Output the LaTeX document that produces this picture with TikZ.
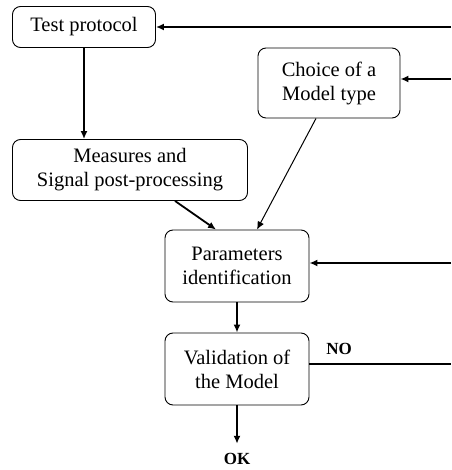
\documentclass[tikz,border=0pt]{standalone}
\usepackage{fontspec}
\setmainfont{Liberation Serif}
\usetikzlibrary{arrows.meta,positioning}
\tikzset{
  stage/.style={draw, rounded corners=8pt, line width=0.9pt, align=center, inner sep=2pt,
    font=\fontsize{20.5}{24}\selectfont},
  flow/.style={line width=1.8pt, -{Latex[length=8pt,width=7pt]}},
  thinflow/.style={line width=1pt, -{Latex[length=8pt,width=7pt]}},
  tag/.style={font=\fontsize{17}{20}\selectfont\bfseries}
}
\begin{document}
\begin{tikzpicture}[x=1pt,y=-1pt]
  \useasboundingbox (0,0) rectangle (451,470);
  \node[stage, minimum width=143pt, minimum height=41pt] (test) at (84,27) {Test protocol};
  \node[stage, minimum width=142pt, minimum height=70pt] (choice) at (329,83) {Choice of a\\Model type};
  \node[stage, minimum width=235pt, minimum height=61pt] (meas) at (130,170) {Measures and\\Signal post-processing};
  \node[stage, minimum width=144pt, minimum height=72pt] (param) at (237,266) {Parameters\\identification};
  \node[stage, minimum width=144pt, minimum height=72pt] (valid) at (237,369) {Validation of\\the Model};
  \node[tag] (ok) at (237,459) {OK};
  \node[tag] (no) at (339,349) {NO};
  % loose ends on the right edge
  \coordinate (r1) at (451,27);
  \coordinate (r2) at (451,79);
  \coordinate (r3) at (451,263);
  \coordinate (r4) at (451,364);
  \draw[flow] (r1) -- (test.east);
  \draw[flow] (r2) -- (choice.east |- r2);
  \draw[flow] (r3) -- (param.east |- r3);
  \draw[line width=1.8pt] (valid.east |- r4) -- (r4);
  \draw[flow] (test.south) -- (meas.north -| test.south);
  \draw[flow] ([xshift=45pt]meas.south) -- ([xshift=-21pt]param.north);
  \draw[thinflow] ([xshift=-13pt]choice.south) -- ([xshift=20pt]param.north);
  \draw[flow] (param.south) -- (valid.north);
  \draw[flow, shorten >=6pt] (valid.south) -- (valid.south |- ok.north);
\end{tikzpicture}
\end{document}
